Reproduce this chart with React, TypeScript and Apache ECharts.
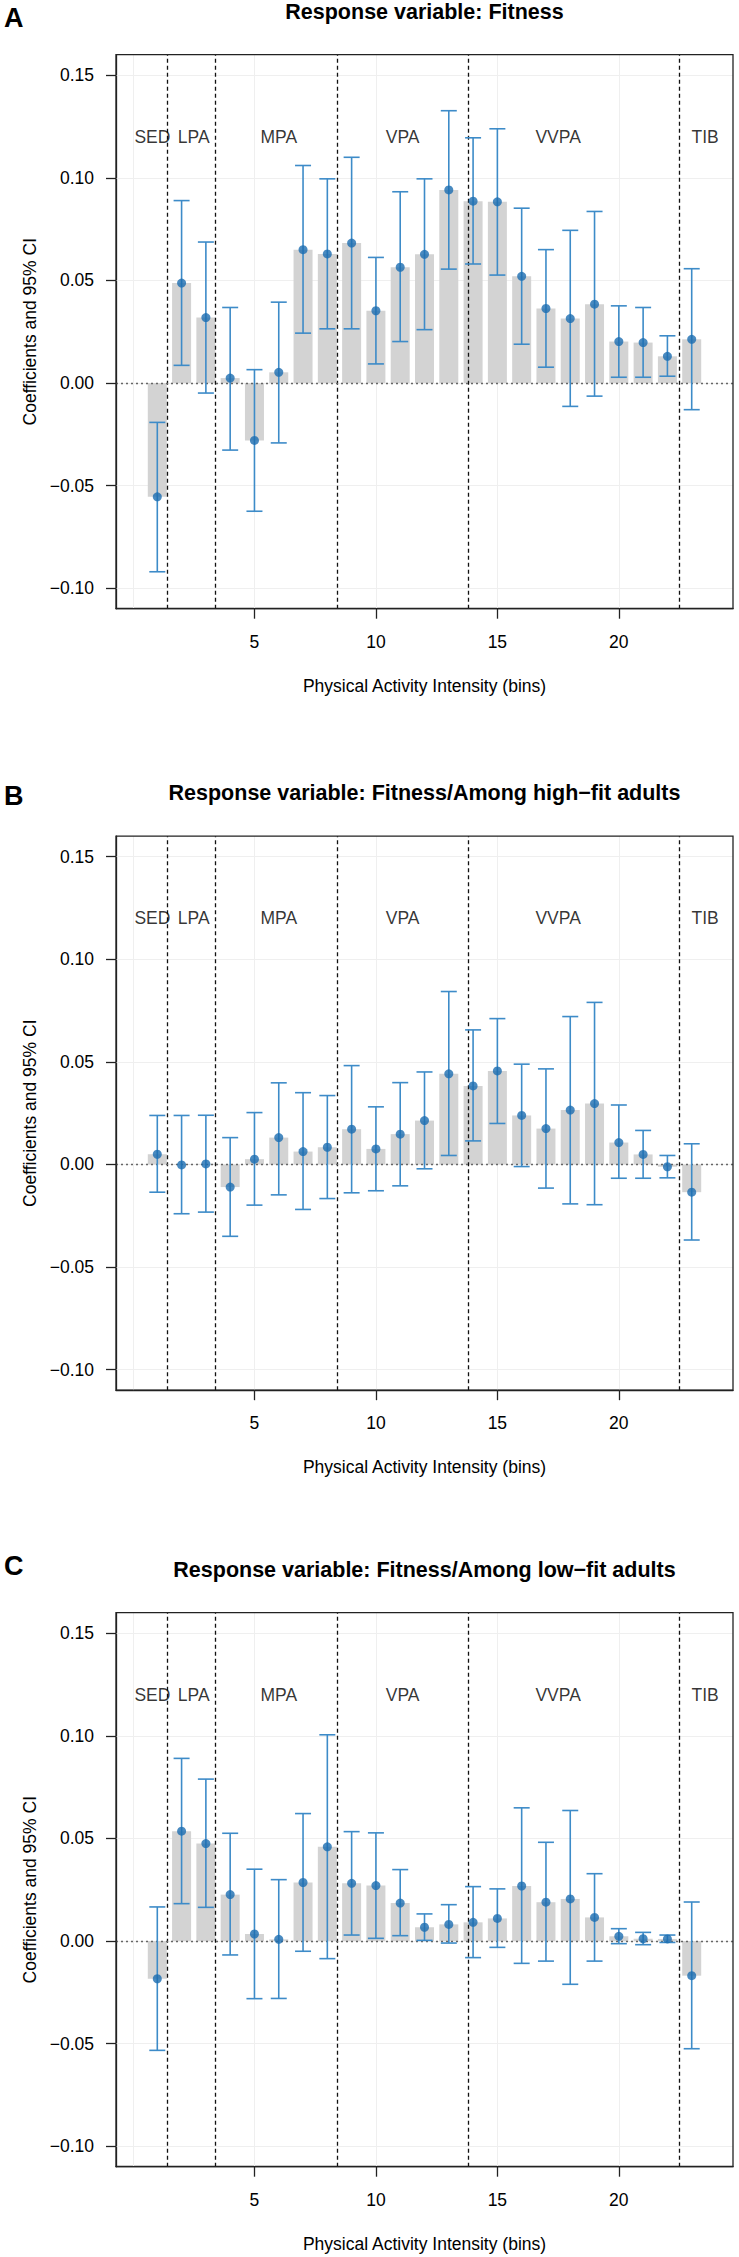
import React, { useEffect, useRef } from "react";
import * as echarts from "echarts";

const bins = Array.from({ length: 23 }, (_, i) => i + 1);

const coefA = [-0.0555, 0.0487, 0.0319, 0.0024, -0.028, 0.0052, 0.065, 0.0629, 0.0682, 0.0352, 0.0564, 0.0627, 0.0941, 0.0886, 0.0883, 0.052, 0.0363, 0.0314, 0.0384, 0.0202, 0.0197, 0.013, 0.0213];
const lowerA = [-0.092, 0.0086, -0.0049, -0.0327, -0.0625, -0.0292, 0.0243, 0.0264, 0.0264, 0.0093, 0.0202, 0.026, 0.0555, 0.058, 0.0526, 0.0189, 0.0077, -0.0114, -0.0064, 0.0028, 0.0028, 0.0033, -0.013];
const upperA = [-0.0192, 0.0889, 0.0687, 0.0368, 0.0065, 0.0394, 0.106, 0.0995, 0.11, 0.0612, 0.0932, 0.0995, 0.1327, 0.1195, 0.1239, 0.0852, 0.065, 0.0744, 0.0836, 0.0376, 0.0368, 0.023, 0.0557];

const coefB = [0.005, -0.0002, 0.0003, -0.011, 0.0026, 0.0131, 0.0063, 0.0084, 0.0172, 0.0076, 0.0148, 0.0214, 0.0442, 0.0383, 0.0456, 0.0239, 0.0175, 0.0265, 0.0297, 0.0107, 0.0049, -0.0011, -0.0135];
const lowerB = [-0.0135, -0.024, -0.0232, -0.035, -0.0198, -0.0148, -0.0219, -0.0166, -0.0138, -0.0128, -0.0104, -0.0021, 0.0044, 0.0115, 0.02, -0.001, -0.0115, -0.0192, -0.0196, -0.0067, -0.0067, -0.0065, -0.0368];
const upperB = [0.0239, 0.0239, 0.024, 0.0131, 0.0253, 0.0398, 0.035, 0.0336, 0.0482, 0.0281, 0.0399, 0.0451, 0.0843, 0.0656, 0.0711, 0.0489, 0.0466, 0.0721, 0.079, 0.029, 0.0166, 0.0044, 0.0101];

const coefC = [-0.0184, 0.0535, 0.0475, 0.0226, 0.0034, 0.0008, 0.0285, 0.0459, 0.0281, 0.027, 0.0185, 0.0067, 0.0081, 0.0091, 0.011, 0.0268, 0.0189, 0.0205, 0.0115, 0.0023, 0.0011, 0.001, -0.0169];
const lowerC = [-0.0533, 0.0182, 0.0164, -0.0068, -0.0281, -0.028, -0.005, -0.0086, 0.0029, 0.0013, 0.0026, 0.0003, -0.001, -0.0081, -0.0031, -0.0109, -0.0098, -0.0211, -0.0098, -0.0013, -0.0018, -0.0007, -0.0525];
const upperC = [0.0166, 0.089, 0.0789, 0.0525, 0.035, 0.0299, 0.0621, 0.1005, 0.0533, 0.0527, 0.0348, 0.0132, 0.0177, 0.0265, 0.0254, 0.0649, 0.0481, 0.0636, 0.0328, 0.006, 0.0042, 0.0029, 0.019];

const panelLetters = ["A", "B", "C"];
const panelTitles = [
  "Response variable: Fitness",
  "Response variable: Fitness/Among high\u2212fit adults",
  "Response variable: Fitness/Among low\u2212fit adults",
];

const yTicks = [-0.1, -0.05, 0, 0.05, 0.1, 0.15];
const xTicks = [5, 10, 15, 20];
const xGrid = [0, 5, 10, 15, 20];
const boundaries = [1.4, 3.4, 8.4, 13.8, 22.5];
const regionNames = ["SED", "LPA", "MPA", "VPA", "VVPA", "TIB"];
const regionX = [0.8, 2.5, 6.0, 11.1, 17.5, 23.55];
const regionY = 0.12;

const FONT = "'Liberation Sans', Arial, Helvetica, sans-serif";

export default function App() {
  const ref = useRef<HTMLDivElement>(null);

  useEffect(() => {
    document.body.style.margin = "0";
    if (!ref.current) return;
    const chart = echarts.init(ref.current, null, { renderer: "svg" });

    const panels = [
      { coef: coefA, lower: lowerA, upper: upperA },
      { coef: coefB, lower: lowerB, upper: upperB },
      { coef: coefC, lower: lowerC, upper: upperC },
    ];
    const offsets = [0, 781.5, 1558];
    const boxTop = 54.7;
    const boxH = 554;
    const boxL = 116;
    const boxR = 6;
    const fs = 17.5;

    const grids: any[] = [];
    const xAxes: any[] = [];
    const yAxes: any[] = [];
    const series: any[] = [];
    const graphics: any[] = [];

    const fmt = (v: number) => {
      const s = Math.abs(v).toFixed(2);
      return v < -1e-9 ? "\u2212" + s : s;
    };

    panels.forEach((p, i) => {
      const off = offsets[i];
      grids.push({
        left: boxL,
        right: boxR,
        top: boxTop + off,
        height: boxH,
        show: true,
        borderColor: "#222",
        borderWidth: 1.3,
        backgroundColor: "transparent",
        containLabel: false,
        z: 6,
      });
      xAxes.push({
        type: "value",
        gridIndex: i,
        min: -0.7,
        max: 24.7,
        name: "Physical Activity Intensity (bins)",
        nameLocation: "middle",
        nameGap: 68,
        nameTextStyle: { fontSize: fs, color: "#000", fontFamily: FONT },
        axisLine: { show: true, onZero: false, lineStyle: { color: "#222", width: 1.3 } },
        axisTick: { show: true, length: 10, customValues: xTicks, lineStyle: { color: "#222", width: 1.3 } },
        axisLabel: { show: true, customValues: xTicks, margin: 24, fontSize: fs, color: "#000", fontFamily: FONT },
        splitLine: { show: false },
      });
      yAxes.push({
        type: "value",
        gridIndex: i,
        min: -0.11,
        max: 0.16,
        name: "Coefficients and 95% CI",
        nameLocation: "middle",
        nameRotate: 90,
        nameGap: 66,
        nameTextStyle: { fontSize: fs, color: "#000", fontFamily: FONT },
        axisLine: { show: true, onZero: false, lineStyle: { color: "#222", width: 1.3 } },
        axisTick: { show: true, length: 10, customValues: yTicks, lineStyle: { color: "#222", width: 1.3 } },
        axisLabel: {
          show: true,
          customValues: yTicks,
          margin: 22,
          fontSize: fs,
          color: "#000",
          fontFamily: FONT,
          formatter: (v: number) => fmt(v),
        },
        splitLine: { show: false },
      });

      // faint background grid
      series.push({
        type: "line",
        xAxisIndex: i,
        yAxisIndex: i,
        data: [],
        z: 1,
        silent: true,
        showSymbol: false,
        markLine: {
          z: 1,
          silent: true,
          symbol: ["none", "none"],
          label: { show: false },
          lineStyle: { color: "#efefef", width: 1, type: "solid" },
          data: [
            ...yTicks.map((v) => ({ yAxis: v })),
            ...xGrid.map((v) => ({ xAxis: v })),
          ],
        },
      });

      series.push({
        type: "bar",
        xAxisIndex: i,
        yAxisIndex: i,
        data: bins.map((b, k) => [b, p.coef[k]]),
        barWidth: 19,
        itemStyle: { color: "#d3d3d3" },
        z: 2,
        silent: true,
      });

      // reference lines
      series.push({
        type: "line",
        xAxisIndex: i,
        yAxisIndex: i,
        data: [],
        z: 3,
        silent: true,
        showSymbol: false,
        markLine: {
          z: 3,
          silent: true,
          symbol: ["none", "none"],
          label: { show: false },
          data: [
            ...boundaries.map((v) => ({
              xAxis: v,
              lineStyle: { color: "#111", width: 1.3, type: [4, 3] },
            })),
            { yAxis: 0, lineStyle: { color: "#666", width: 1.3, type: [2, 3] } },
          ],
        },
      });

      // region labels
      series.push({
        type: "scatter",
        xAxisIndex: i,
        yAxisIndex: i,
        symbolSize: 0,
        z: 3,
        silent: true,
        data: regionNames.map((n, k) => ({ name: n, value: [regionX[k], regionY] })),
        label: {
          show: true,
          position: "inside",
          formatter: "{b}",
          fontSize: fs,
          color: "#000",
          fontFamily: FONT,
        },
      });

      // error bars
      series.push({
        type: "custom",
        xAxisIndex: i,
        yAxisIndex: i,
        z: 4,
        silent: true,
        data: bins.map((b, k) => [b, p.lower[k], p.upper[k]]),
        encode: { x: 0, y: [1, 2] },
        renderItem: (params: any, api: any) => {
          const x = api.value(0);
          const lo = api.coord([x, api.value(1)]);
          const hi = api.coord([x, api.value(2)]);
          const hw = 8;
          const style = { stroke: "#3d8bc8", lineWidth: 1.6 };
          return {
            type: "group",
            children: [
              { type: "line", shape: { x1: lo[0], y1: lo[1], x2: hi[0], y2: hi[1] }, style },
              { type: "line", shape: { x1: lo[0] - hw, y1: lo[1], x2: lo[0] + hw, y2: lo[1] }, style },
              { type: "line", shape: { x1: hi[0] - hw, y1: hi[1], x2: hi[0] + hw, y2: hi[1] }, style },
            ],
          };
        },
      });

      // points
      series.push({
        type: "scatter",
        xAxisIndex: i,
        yAxisIndex: i,
        z: 5,
        silent: true,
        symbol: "circle",
        symbolSize: 9,
        itemStyle: { color: "#1c6db0" },
        data: bins.map((b, k) => [b, p.coef[k]]),
      });

      graphics.push({
        type: "text",
        x: 424.5,
        y: [11.5, 793, 1569.5][i],
        style: {
          text: panelTitles[i],
          font: `bold 21.5px ${FONT}`,
          fill: "#000",
          textAlign: "center",
          textVerticalAlign: "middle",
          align: "center",
          verticalAlign: "middle",
        },
      });
      graphics.push({
        type: "text",
        x: 4,
        y: [18, 796, 1566][i],
        style: {
          text: panelLetters[i],
          font: `bold 27px ${FONT}`,
          fill: "#000",
          textAlign: "left",
          textVerticalAlign: "middle",
          align: "left",
          verticalAlign: "middle",
        },
      });
    });

    chart.setOption({
      animation: false,
      backgroundColor: "#fff",
      textStyle: { fontFamily: FONT },
      grid: grids,
      xAxis: xAxes,
      yAxis: yAxes,
      series,
      graphic: graphics,
    });

    return () => chart.dispose();
  }, []);

  return <div ref={ref} style={{ width: 739, height: 2257 }} />;
}
